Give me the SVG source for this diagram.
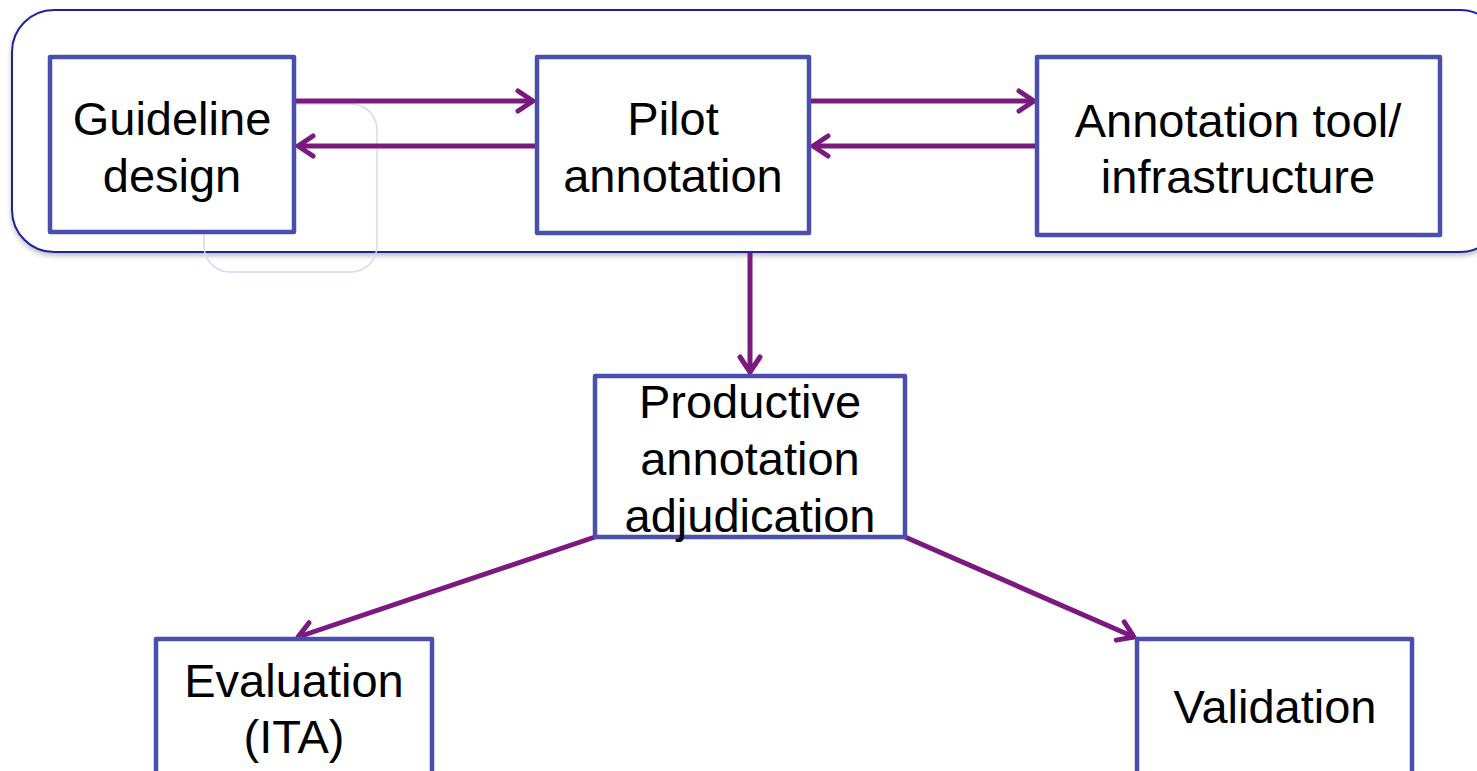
<svg xmlns="http://www.w3.org/2000/svg" width="1477" height="771" viewBox="0 0 1477 771">
<style>
.box{fill:#ffffff;stroke:#4a4fae;stroke-width:4.5;stroke-linejoin:round}
.lbl{font-family:"Liberation Sans",Arial,sans-serif;font-size:47px;fill:#000;text-anchor:middle}
.conn{stroke:#7a1a7e;stroke-width:5;fill:none;marker-end:url(#chev)}
</style>
<defs>
<marker id="chev" markerUnits="userSpaceOnUse" viewBox="-20 -14 24 28" refX="0" refY="0" markerWidth="24" markerHeight="28" orient="auto">
<path d="M-15,-10 L0,0 L-15,10" fill="none" stroke="#7a1a7e" stroke-width="5" stroke-linecap="round" stroke-linejoin="round"/>
</marker>
<filter id="sh" x="-5%" y="-10%" width="110%" height="130%">
<feDropShadow dx="0" dy="3" stdDeviation="2.5" flood-color="#000" flood-opacity="0.25"/>
</filter>
</defs>
<rect x="0" y="0" width="1477" height="771" fill="#ffffff"/>
<g id="group-frame">
<rect x="12" y="10" width="1490" height="242" rx="42" ry="42" fill="#ffffff" stroke="#1c22a0" stroke-width="2" filter="url(#sh)"/>
<rect x="204" y="104" width="173" height="168" rx="26" ry="26" fill="none" stroke="#d6d9f7" stroke-width="1.5"/>
</g>
<g id="connectors">
<line class="conn" x1="290" y1="101" x2="533" y2="101"/>
<line class="conn" x1="537" y1="146" x2="298" y2="146"/>
<line class="conn" x1="810" y1="101" x2="1034" y2="101"/>
<line class="conn" x1="1037" y1="146" x2="813" y2="146"/>
<line class="conn" x1="750" y1="253" x2="750" y2="372"/>
<line class="conn" x1="595" y1="537" x2="298" y2="637"/>
<line class="conn" x1="905" y1="537" x2="1134" y2="637"/>
</g>
<g id="node-guideline">
<rect class="box" x="50" y="57" width="244" height="175"/>
<text class="lbl" x="172" y="135">Guideline</text>
<text class="lbl" x="172" y="192">design</text>
</g>
<g id="node-pilot">
<rect class="box" x="537" y="57" width="272" height="176"/>
<text class="lbl" x="673" y="135">Pilot</text>
<text class="lbl" x="673" y="192">annotation</text>
</g>
<g id="node-tool">
<rect class="box" x="1037" y="57" width="403" height="178"/>
<text class="lbl" x="1238" y="137">Annotation tool/</text>
<text class="lbl" x="1238" y="193">infrastructure</text>
</g>
<g id="node-productive">
<rect class="box" x="595" y="376" width="310" height="161"/>
<text class="lbl" x="750" y="418">Productive</text>
<text class="lbl" x="750" y="475">annotation</text>
<text class="lbl" x="750" y="532">adjudication</text>
</g>
<g id="node-evaluation">
<rect class="box" x="156" y="639" width="276" height="150"/>
<text class="lbl" x="294" y="697">Evaluation</text>
<text class="lbl" x="294" y="753">(ITA)</text>
</g>
<g id="node-validation">
<rect class="box" x="1137" y="639" width="275" height="150"/>
<text class="lbl" x="1275" y="723">Validation</text>
</g>
</svg>
